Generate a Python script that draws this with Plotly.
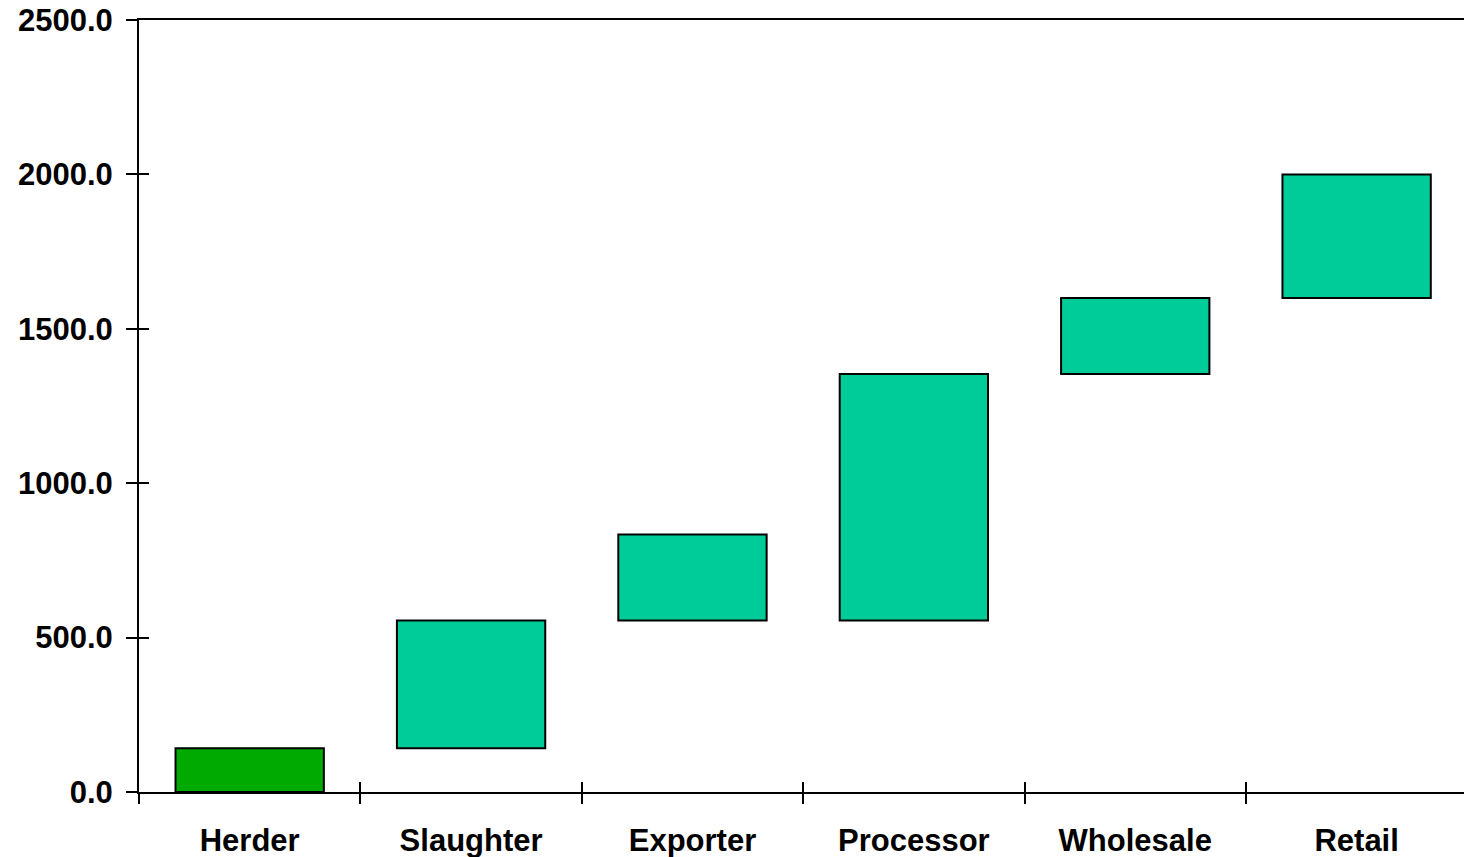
import plotly.graph_objects as go

stages = ["Herder", "Slaughter", "Exporter", "Processor", "Wholesale", "Retail"]
bar_bottom = [0, 142, 555, 555, 1354, 1600]
bar_top = [142, 555, 834, 1354, 1600, 2000]
bar_colors = ["#00AA00", "#00CC99", "#00CC99", "#00CC99", "#00CC99", "#00CC99"]
y_ticks = [0, 500, 1000, 1500, 2000, 2500]

FONT = "Liberation Sans, Arial, sans-serif"

heights = [t - b for t, b in zip(bar_top, bar_bottom)]

fig = go.Figure()
fig.add_trace(go.Bar(
    x=stages, y=heights, base=bar_bottom,
    marker=dict(color=bar_colors, line=dict(color="black", width=2)),
    hovertemplate="%{x}: %{base} – %{y}<extra></extra>",
    showlegend=False,
))
# invisible trace to drive the secondary axes (inner halves of crossing ticks)
fig.add_trace(go.Scatter(x=stages, y=[0]*len(stages), xaxis="x2", yaxis="y2",
                         mode="markers", marker=dict(opacity=0), hoverinfo="skip",
                         showlegend=False))

xrange = [-0.5, len(stages) - 0.5 - 0.015]

fig.update_layout(
    width=1464, height=857,
    margin=dict(l=139, r=0, t=20, b=65),
    paper_bgcolor="white", plot_bgcolor="white",
    bargap=0.33,
    font=dict(family=FONT, color="black"),
    xaxis=dict(
        type="category", categoryarray=stages, range=xrange,
        showline=True, linecolor="black", linewidth=2, mirror=True,
        ticks="outside", ticklen=10, tickwidth=1.5, tickcolor="black",
        tickson="boundaries", showgrid=False, zeroline=False,
        tickfont=dict(family=FONT, size=31, color="black", weight="bold"),
        ticklabelstandoff=20,
    ),
    yaxis=dict(
        range=[0, 2500], tickvals=y_ticks, tickformat=".1f",
        showline=True, linecolor="black", linewidth=2,
        ticks="outside", ticklen=11, tickwidth=1.5, tickcolor="black",
        showgrid=False, zeroline=False,
        tickfont=dict(family=FONT, size=31, color="black", weight="bold"),
        ticklabelstandoff=7,
    ),
    xaxis2=dict(
        type="category", categoryarray=stages, range=xrange, overlaying="x",
        matches="x", side="bottom", anchor="y2",
        ticks="inside", ticklen=10, tickwidth=1.5, tickcolor="black",
        tickson="boundaries", showticklabels=False, showgrid=False,
        zeroline=False, showline=False,
    ),
    yaxis2=dict(
        range=[0, 2500], tickvals=y_ticks, overlaying="y", matches="y",
        side="left", anchor="x2",
        ticks="inside", ticklen=10, tickwidth=1.5, tickcolor="black",
        showticklabels=False, showgrid=False, zeroline=False, showline=False,
    ),
)

fig.write_html("out.html")
